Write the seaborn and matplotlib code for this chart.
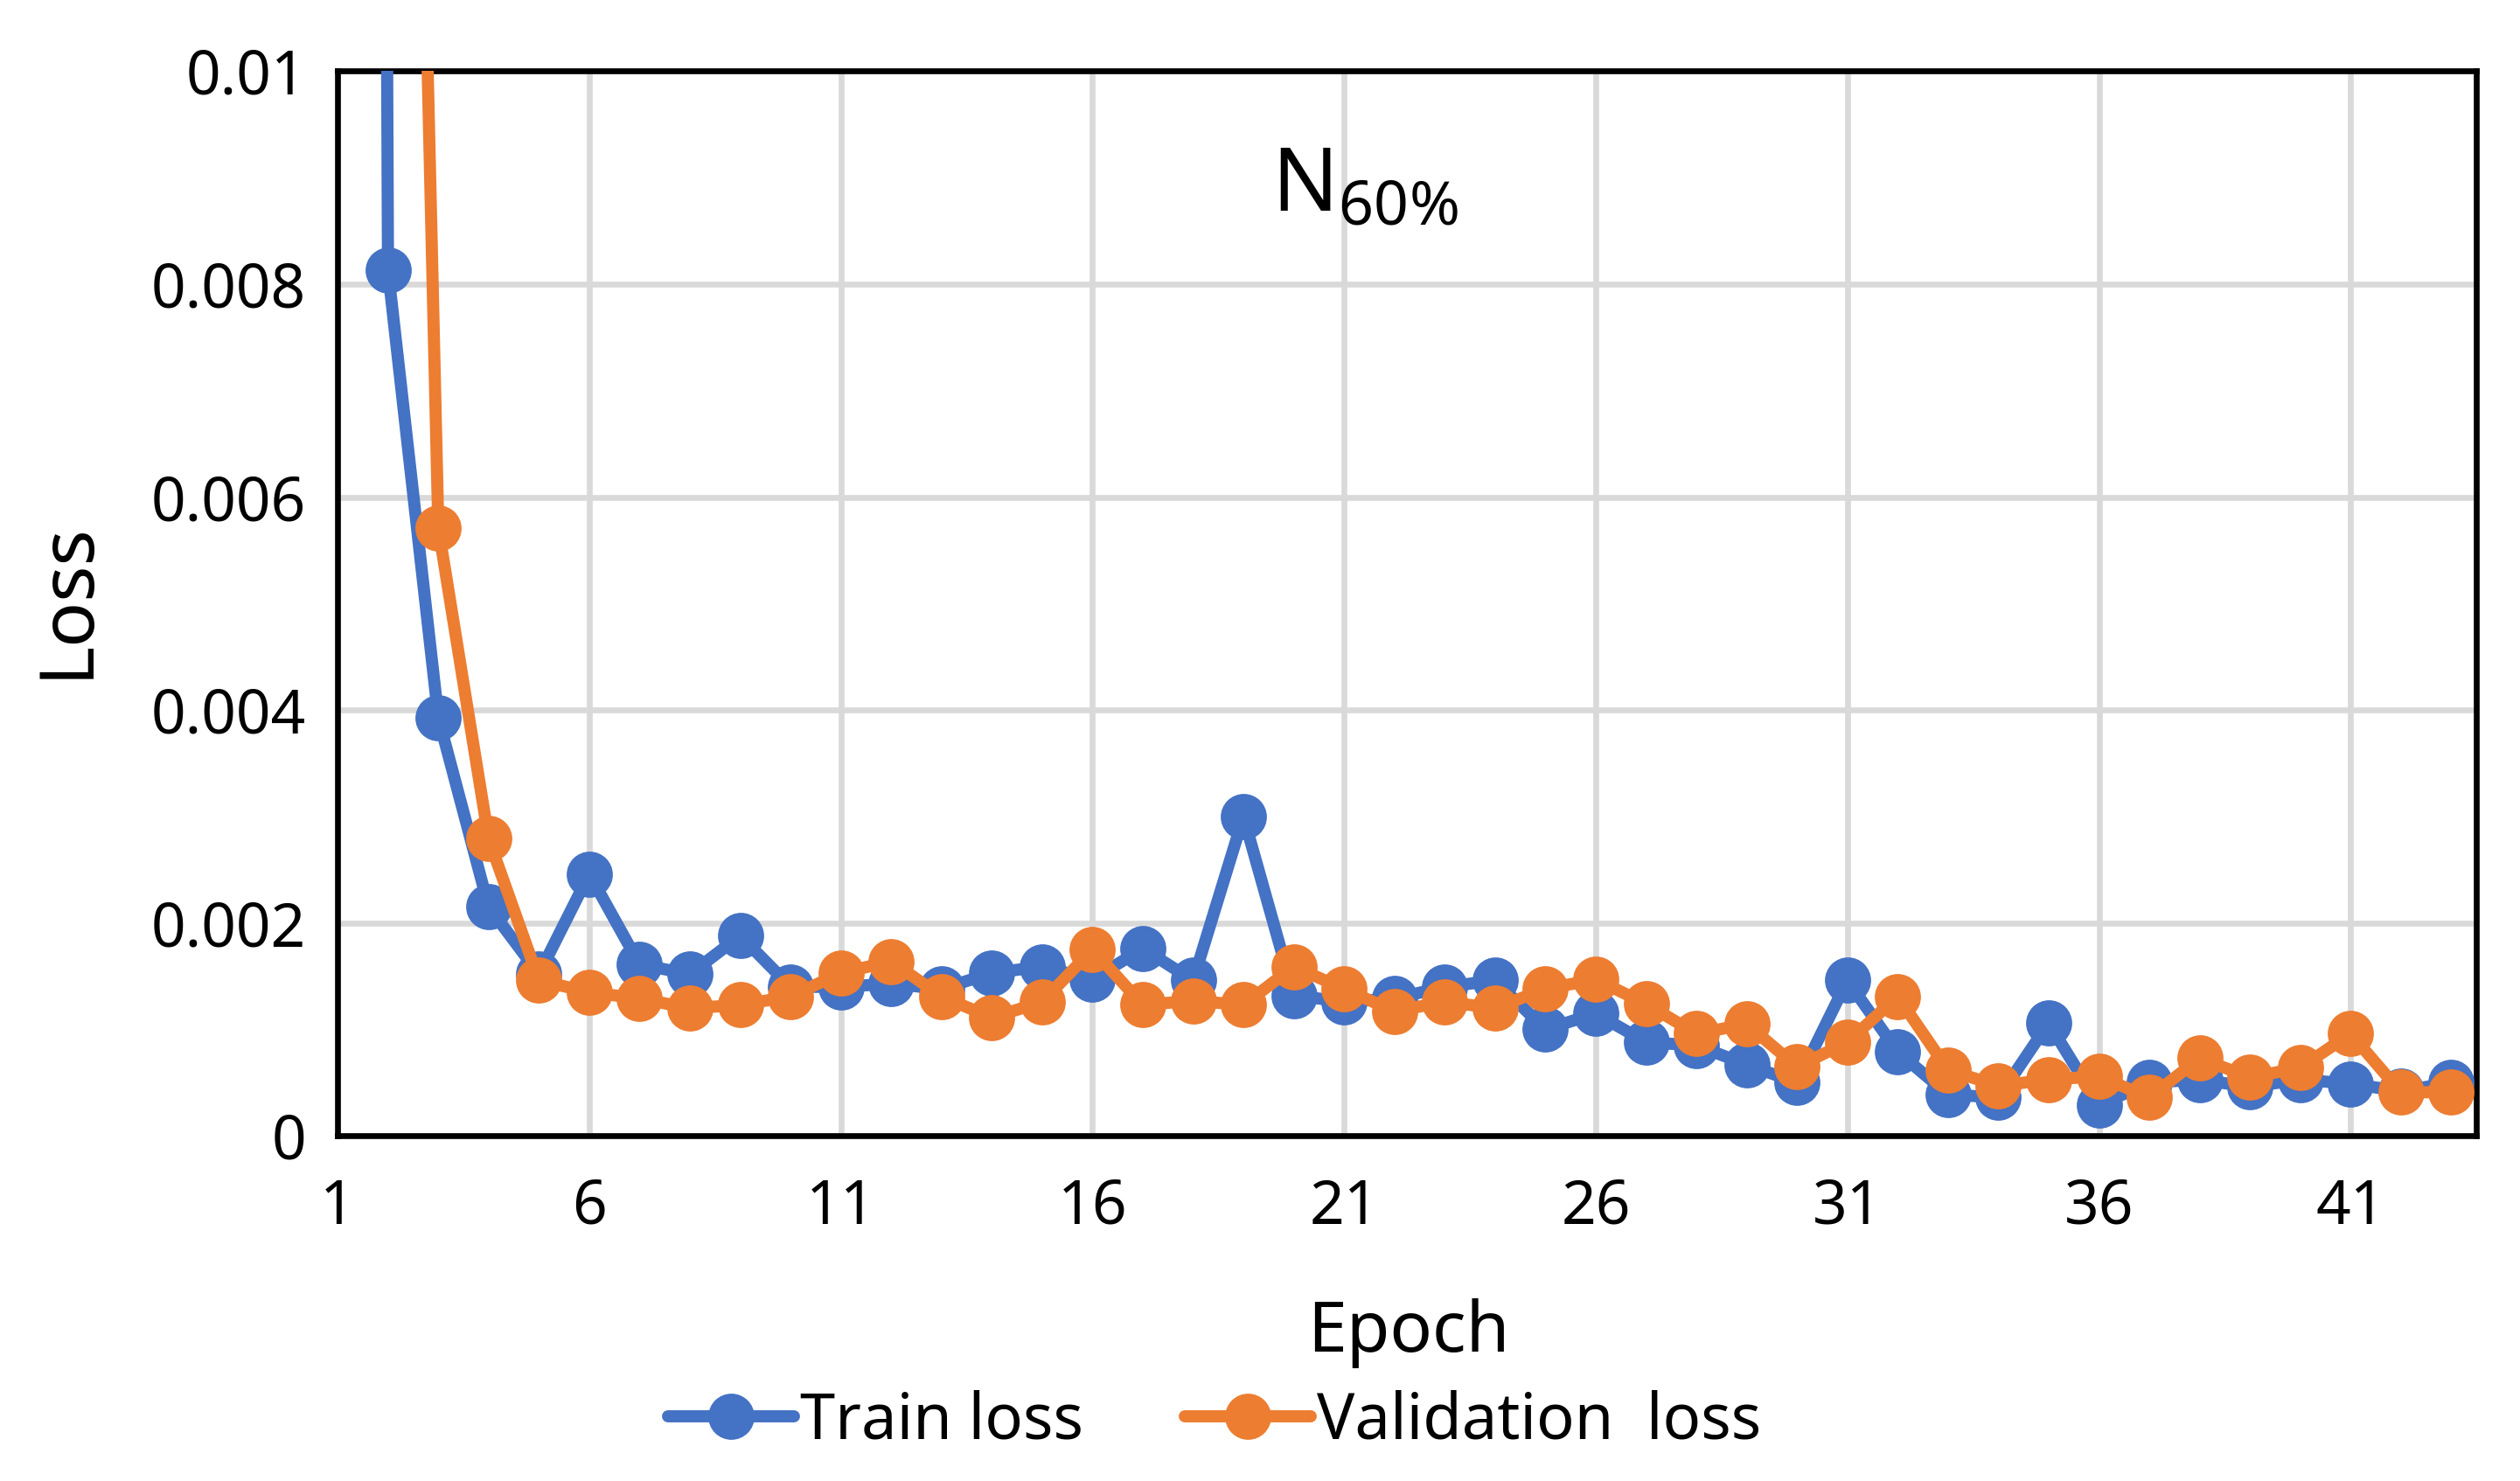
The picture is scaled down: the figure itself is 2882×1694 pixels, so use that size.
import numpy as np
import pandas as pd
import seaborn as sns
import matplotlib
matplotlib.use("Agg")
import matplotlib.pyplot as plt

# data
epochs = list(range(1, 44))
train_loss = [0.12, 0.00813, 0.00393, 0.00215, 0.00152, 0.00246, 0.00161, 0.00152,
              0.00188, 0.00140, 0.00140, 0.00143, 0.00138, 0.00153, 0.00159, 0.00147,
              0.00176, 0.00146, 0.00300, 0.00132, 0.00126, 0.00129, 0.00140, 0.00146,
              0.00100, 0.00115, 0.00088, 0.00085, 0.00067, 0.00050, 0.00146, 0.00079,
              0.00039, 0.00036, 0.00106, 0.00029, 0.00050, 0.00053, 0.00046, 0.00053,
              0.00049, 0.00042, 0.00050]
val_loss = [0.05, 0.026, 0.00571, 0.00279, 0.00146, 0.00135, 0.00129, 0.00120,
            0.00123, 0.00131, 0.00153, 0.00164, 0.00131, 0.00111, 0.00126, 0.00175,
            0.00123, 0.00127, 0.00123, 0.00159, 0.00138, 0.00117, 0.00126, 0.00120,
            0.00138, 0.00147, 0.00124, 0.00096, 0.00105, 0.00065, 0.00088, 0.00131,
            0.00062, 0.00047, 0.00053, 0.00056, 0.00036, 0.00073, 0.00055, 0.00064,
            0.00096, 0.00041, 0.00041]
series_names = ["Train loss", "Validation  loss"]
colors = ["#4472C4", "#ED7D31"]
x_ticks = [1, 6, 11, 16, 21, 26, 31, 36, 41]
y_ticks = [0, 0.002, 0.004, 0.006, 0.008, 0.01]
y_labels = ["0", "0.002", "0.004", "0.006", "0.008", "0.01"]

df = pd.DataFrame({
    "Epoch": epochs * 2,
    "Loss": train_loss + val_loss,
    "series": [series_names[0]] * len(epochs) + [series_names[1]] * len(epochs),
})

sns.set_style("white")
plt.rcParams["font.family"] = ["Noto Sans", "DejaVu Sans"]
plt.rcParams["mathtext.fontset"] = "custom"
plt.rcParams["mathtext.rm"] = "Noto Sans"
plt.rcParams["text.color"] = "black"
plt.rcParams["xtick.color"] = "black"
plt.rcParams["ytick.color"] = "black"

fig = plt.figure(figsize=(14.41, 8.47), dpi=200)
ax = fig.add_axes([0.134, 0.233, 0.8487, 0.719])

sns.lineplot(data=df, x="Epoch", y="Loss", hue="series", palette=colors,
             marker="o", markersize=19, markeredgewidth=0, linewidth=5,
             ax=ax, legend=False, zorder=3)

ax.set_xlim(1, 43.5)
ax.set_ylim(0, 0.01)
ax.set_xticks(x_ticks)
ax.set_yticks(y_ticks)
ax.set_yticklabels(y_labels)
ax.tick_params(axis="both", labelsize=25, length=8, width=2.2, direction="out",
               color="black", labelcolor="black", pad=5)
ax.tick_params(axis="x", pad=9)
ax.grid(True, color="#D9D9D9", linewidth=2.4, zorder=0)
for s in ax.spines.values():
    s.set_color("black")
    s.set_linewidth(2.4)

ax.set_xlabel("")
ax.set_ylabel("")
fig.text(0.559, 0.10, "Epoch", fontsize=29, ha="center", va="center")
fig.text(0.027, 0.595, "Loss", fontsize=31, rotation=90, ha="center", va="center")

ax.text(19.55, 0.0089, r"$\mathregular{N_{60\%}}$", fontsize=36, ha="left", va="center")

handles = [plt.Line2D([], [], color=c, marker="o", markersize=19, linewidth=5,
                      markeredgewidth=0) for c in colors]
fig.legend(handles, series_names, loc="center", bbox_to_anchor=(0.482, 0.04),
           ncol=2, frameon=False, fontsize=26, handlelength=2.0,
           handletextpad=0.1, columnspacing=1.6)

fig.savefig("out.png", dpi=200)
